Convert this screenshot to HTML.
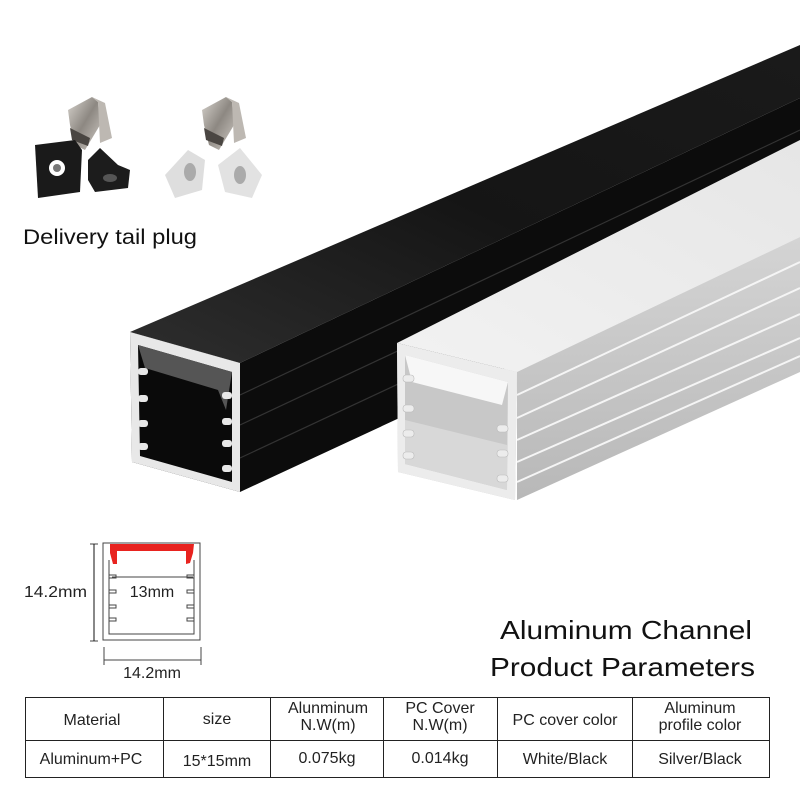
<!DOCTYPE html>
<html><head><meta charset="utf-8"><style>
html,body{margin:0;padding:0;background:#fff;}
body{width:800px;height:800px;overflow:hidden;position:relative;font-family:"Liberation Sans",sans-serif;}
svg{position:absolute;left:0;top:0;}
</style></head><body>
<svg width="800" height="800" viewBox="0 0 800 800" xmlns="http://www.w3.org/2000/svg">
<defs>
<linearGradient id="btop" x1="0" y1="1" x2="1" y2="0"><stop offset="0" stop-color="#2e2e2e"/><stop offset="0.5" stop-color="#151515"/><stop offset="1" stop-color="#1a1a1a"/></linearGradient>
<linearGradient id="wtop" x1="0" y1="1" x2="1" y2="0"><stop offset="0" stop-color="#f2f2f2"/><stop offset="1" stop-color="#e6e6e6"/></linearGradient>
<linearGradient id="wside" x1="0" y1="0" x2="0" y2="1"><stop offset="0" stop-color="#d4d4d4"/><stop offset="1" stop-color="#b8b8b8"/></linearGradient>
<linearGradient id="metal" x1="0" y1="0" x2="1" y2="1"><stop offset="0" stop-color="#d8d4ce"/><stop offset="0.5" stop-color="#8d8882"/><stop offset="1" stop-color="#cfcac4"/></linearGradient>
</defs>
<!-- Black profile -->
<polygon points="130,332 240,363 800,98 800,45" fill="url(#btop)"/>
<polygon points="240,363 240,492 800,232 800,98" fill="#0c0c0c"/>
<g stroke="#333" stroke-width="1.2">
<line x1="240" y1="395" x2="800" y2="130"/><line x1="240" y1="425" x2="800" y2="162"/><line x1="240" y1="458" x2="800" y2="196"/>
</g>
<polygon points="130,332 240,363 240,492 132,462" fill="#0a0a0a"/>
<path d="M130,332 L240,363 L240,492 L132,462 Z M138,345 L232,372 L232,482 L140,456 Z" fill="#e8e8e8" fill-rule="evenodd"/>
<path d="M138,345 L232,372 L226,410 L218,390 L145,368 Z" fill="#555"/>
<g fill="#e8e8e8">
<rect x="138" y="368" width="10" height="7" rx="3"/><rect x="138" y="395" width="10" height="7" rx="3"/><rect x="138" y="420" width="10" height="7" rx="3"/><rect x="138" y="443" width="10" height="7" rx="3"/>
<rect x="222" y="392" width="10" height="7" rx="3"/><rect x="222" y="418" width="10" height="7" rx="3"/><rect x="222" y="440" width="10" height="7" rx="3"/><rect x="222" y="465" width="10" height="7" rx="3"/>
</g>
<!-- White profile -->
<polygon points="397,343 517,372 800,237 800,140" fill="url(#wtop)"/>
<polygon points="517,372 517,500 800,372 800,237" fill="url(#wside)"/>
<g stroke="#f5f5f5" stroke-width="2">
<line x1="517" y1="395" x2="800" y2="262"/><line x1="517" y1="418" x2="800" y2="288"/><line x1="517" y1="440" x2="800" y2="314"/><line x1="517" y1="462" x2="800" y2="338"/><line x1="517" y1="482" x2="800" y2="356"/>
</g>
<polygon points="397,343 517,372 515,500 398,472" fill="#c8c8c8"/>
<path d="M397,343 L517,372 L515,500 L398,472 Z M405,355 L508,382 L507,490 L405,464 Z" fill="#ececec" fill-rule="evenodd"/>
<path d="M405,355 L508,382 L502,405 L412,382 Z" fill="#f7f7f7"/>
<polygon points="405,420 507,445 507,490 405,464" fill="#d8d8d8"/>
<g fill="#ececec" stroke="#bbb" stroke-width="0.6">
<rect x="403" y="375" width="11" height="7" rx="3"/><rect x="403" y="405" width="11" height="7" rx="3"/><rect x="403" y="430" width="11" height="7" rx="3"/><rect x="403" y="452" width="11" height="7" rx="3"/>
<rect x="497" y="425" width="11" height="7" rx="3"/><rect x="497" y="450" width="11" height="7" rx="3"/><rect x="497" y="475" width="11" height="7" rx="3"/>
</g>
<!-- clips -->
<g>
<path d="M68,110 L92,97 L98,102 L100,125 L85,150 L75,145 L70,125 Z" fill="url(#metal)"/>
<path d="M92,97 L105,103 L112,138 L100,143 L98,102 Z" fill="#bdb8b2"/>
<path d="M70,128 L90,138 L88,146 L72,140 Z" fill="#4a4642"/>
<path d="M202,110 L226,97 L232,102 L234,125 L219,150 L209,145 L204,125 Z" fill="url(#metal)"/>
<path d="M226,97 L239,103 L246,138 L234,143 L232,102 Z" fill="#bdb8b2"/>
<path d="M204,128 L224,138 L222,146 L206,140 Z" fill="#4a4642"/>
<path d="M35,145 L75,140 L82,150 L80,192 L38,198 Z" fill="#1a1a1a"/><circle cx="57" cy="168" r="8" fill="#fff"/><circle cx="57" cy="168" r="4" fill="#777"/>
<path d="M88,160 L100,148 L118,165 L130,170 L128,188 L95,192 L88,180 Z" fill="#1c1c1c"/><ellipse cx="110" cy="178" rx="7" ry="4" fill="#555"/>
<path d="M165,175 L188,150 L205,160 L202,190 L175,198 Z" fill="#dedede"/><ellipse cx="190" cy="172" rx="6" ry="9" fill="#aaa"/>
<path d="M218,165 L240,148 L262,175 L252,198 L225,192 Z" fill="#e2e2e2"/><ellipse cx="240" cy="175" rx="6" ry="9" fill="#aaa"/>
</g>
<text x="23" y="244" font-size="21" fill="#111" textLength="174" lengthAdjust="spacingAndGlyphs">Delivery tail plug</text>
<!-- cross-section drawing -->
<g fill="none" stroke="#444" stroke-width="1">
<path d="M103,543 L200,543 L200,640 L103,640 Z"/>
<path d="M109,560 L109,634 L194,634 L194,560"/>
<path d="M109,575 h7 v3 h-7 M109,590 h7 v3 h-7 M109,605 h7 v3 h-7 M109,618 h7 v3 h-7"/>
<path d="M194,575 h-7 v3 h7 M194,590 h-7 v3 h7 M194,605 h-7 v3 h7 M194,618 h-7 v3 h7"/>
<line x1="90" y1="544" x2="98" y2="544"/><line x1="90" y1="641" x2="98" y2="641"/><line x1="94" y1="544" x2="94" y2="641" stroke="#111"/>
<line x1="104" y1="647" x2="104" y2="665"/><line x1="201" y1="647" x2="201" y2="665"/><line x1="104" y1="660" x2="201" y2="660"/>
<line x1="112" y1="577" x2="193" y2="577"/>
</g>
<path d="M110,544 L194,544 L193,553 L190,563 L186,564 L186,551 L117,551 L117,564 L113,564 L110,553 Z" fill="#e8231f"/>
<text x="24" y="597" font-size="16" fill="#222" textLength="63" lengthAdjust="spacingAndGlyphs">14.2mm</text>
<text x="152" y="597" font-size="16" fill="#222" text-anchor="middle">13mm</text>
<text x="152" y="678" font-size="16" fill="#222" text-anchor="middle">14.2mm</text>
<!-- title -->
<text x="500" y="639" font-size="26" fill="#111" textLength="252" lengthAdjust="spacingAndGlyphs">Aluminum Channel</text>
<text x="490" y="676" font-size="26" fill="#111" textLength="265" lengthAdjust="spacingAndGlyphs">Product Parameters</text>
<!-- table -->
<g stroke="#222" stroke-width="1" fill="none">
<rect x="25.5" y="697.5" width="744" height="80"/>
<line x1="25" y1="740.5" x2="770" y2="740.5"/>
<line x1="163.5" y1="697" x2="163.5" y2="778"/><line x1="270.5" y1="697" x2="270.5" y2="778"/><line x1="383.5" y1="697" x2="383.5" y2="778"/><line x1="497.5" y1="697" x2="497.5" y2="778"/><line x1="632.5" y1="697" x2="632.5" y2="778"/>
</g>
<g font-size="16" fill="#222" text-anchor="middle">
<text x="92" y="725">Material</text>
<text x="217" y="724">size</text>
<text x="328" y="713">Alunminum</text><text x="328" y="730">N.W(m)</text>
<text x="440" y="713">PC Cover</text><text x="440" y="730">N.W(m)</text>
<text x="565" y="725">PC cover color</text>
<text x="700" y="713">Aluminum</text><text x="700" y="730">profile color</text>
<text x="91" y="764">Aluminum+PC</text>
<text x="217" y="766">15*15mm</text>
<text x="327" y="763">0.075kg</text>
<text x="440" y="763">0.014kg</text>
<text x="565" y="764">White/Black</text>
<text x="700" y="764">Silver/Black</text>
</g>
</svg>
</body></html>
